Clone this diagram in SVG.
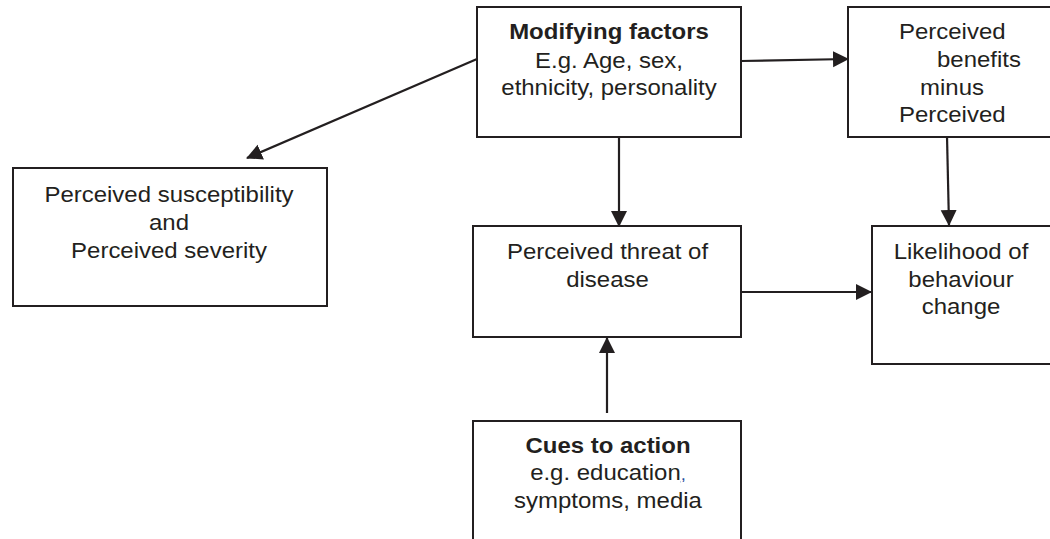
<svg xmlns="http://www.w3.org/2000/svg" width="1050" height="539" viewBox="0 0 1050 539">
  <defs>
    <style>
      .box { fill: #ffffff; stroke: #231f20; stroke-width: 2; }
      .t { font-family: "Liberation Sans", Arial, sans-serif; font-size: 22px; fill: #231f20; }
      .c { text-anchor: middle; }
      .b { font-weight: bold; }
      .edge { stroke: #231f20; stroke-width: 2.2; fill: none; marker-end: url(#ah); }
      .link { fill: #1f4ea0; text-decoration: underline; font-size: 17px; }
    </style>
    <marker id="ah" markerUnits="userSpaceOnUse" markerWidth="18" markerHeight="18" refX="15" refY="9" orient="auto">
      <path d="M0,1 L16,9 L0,17 z" fill="#231f20"/>
    </marker>
  </defs>
  <rect width="1050" height="539" fill="#ffffff"/>

  <g id="modifying-factors">
    <rect class="box" x="477" y="7" width="264" height="130"/>
    <g transform="translate(609 0) scale(1.09 1)">
      <text class="t c b" x="0" y="39">Modifying factors</text>
      <text class="t c" x="0" y="68">E.g. Age, sex,</text>
      <text class="t c" x="0" y="95">ethnicity, personality</text>
    </g>
  </g>

  <g id="perceived-benefits">
    <rect class="box" x="848" y="7" width="210" height="130"/>
    <g transform="translate(899 0) scale(1.09 1)">
      <text class="t" x="0" y="39">Perceived</text>
      <text class="t" x="34.9" y="67">benefits</text>
      <text class="t" x="19.3" y="95">minus</text>
      <text class="t" x="0" y="122">Perceived</text>
    </g>
  </g>

  <g id="perceived-susceptibility">
    <rect class="box" x="13" y="168" width="314" height="138"/>
    <g transform="translate(169 0) scale(1.09 1)">
      <text class="t c" x="0" y="202">Perceived susceptibility</text>
      <text class="t c" x="0" y="230">and</text>
      <text class="t c" x="0" y="258">Perceived severity</text>
    </g>
  </g>

  <g id="perceived-threat">
    <rect class="box" x="473" y="226" width="268" height="111"/>
    <g transform="translate(607.5 0) scale(1.09 1)">
      <text class="t c" x="0" y="259">Perceived threat of</text>
      <text class="t c" x="0" y="287">disease</text>
    </g>
  </g>

  <g id="likelihood">
    <rect class="box" x="872" y="226" width="186" height="138"/>
    <g transform="translate(961 0) scale(1.09 1)">
      <text class="t c" x="0" y="259">Likelihood of</text>
      <text class="t c" x="0" y="287">behaviour</text>
      <text class="t c" x="0" y="314">change</text>
    </g>
  </g>

  <g id="cues-to-action">
    <rect class="box" x="473" y="421" width="268" height="130"/>
    <g transform="translate(608 0) scale(1.09 1)">
      <text class="t c b" x="0" y="453">Cues to action</text>
      <text class="t c" x="0" y="480">e.g. education<tspan class="link">,</tspan></text>
      <text class="t c" x="0" y="508">symptoms, media</text>
    </g>
  </g>

  <g id="connectors">
    <line class="edge" x1="477" y1="59" x2="247" y2="158"/>
    <line class="edge" x1="741" y1="61" x2="848" y2="59"/>
    <line class="edge" x1="619" y1="137" x2="619" y2="226"/>
    <line class="edge" x1="947" y1="136" x2="949" y2="225"/>
    <line class="edge" x1="741" y1="292" x2="871" y2="292"/>
    <line class="edge" x1="607" y1="413" x2="607" y2="338"/>
  </g>
</svg>
